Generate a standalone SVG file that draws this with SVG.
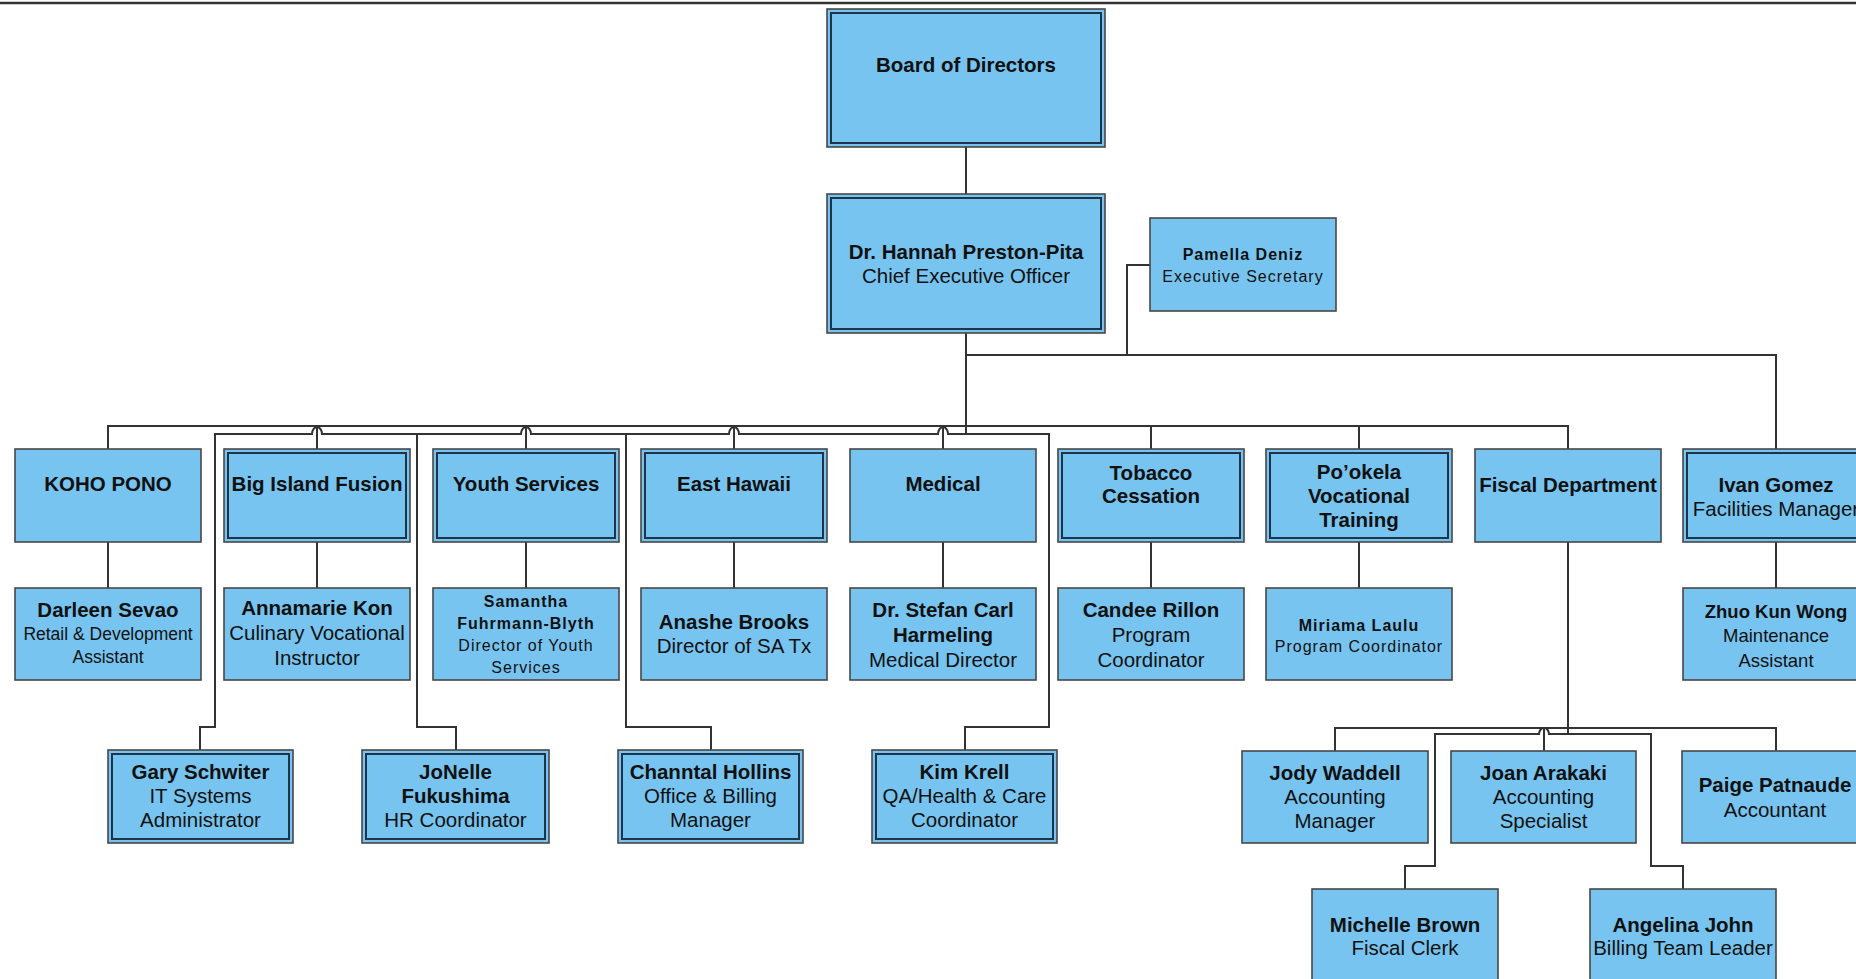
<svg xmlns="http://www.w3.org/2000/svg" width="1856" height="979" viewBox="0 0 1856 979">
<style>
.box{fill:#78C4F0;stroke:#474747;stroke-width:1.6}
.inner{fill:none;stroke:#1f3449;stroke-width:2}
.conn{fill:none;stroke:#333;stroke-width:2}
text{font-family:"Liberation Sans",Arial,sans-serif;text-anchor:middle;fill:#111;font-size:20.5px}
.b{font-weight:bold}
.s16{font-size:16px;letter-spacing:1px}
.s175{font-size:17.5px}
.s18{font-size:18.5px}
</style>
<rect width="1856" height="979" fill="#fff"/>
<line x1="0" y1="3" x2="1856" y2="3" stroke="#333" stroke-width="2.5"/>
<g id="connectors">
<path class="conn" d="M966 147V194"/>
<path class="conn" d="M966 333V434"/>
<path class="conn" d="M1150 265H1127V355"/>
<path class="conn" d="M966 355H1776V449"/>
<path class="conn" d="M108 449V426H1568V449"/>
<path class="conn" d="M317 426V449M526 426V449M734 426V449M943 426V449M1151 426V449M1359 426V449"/>
<path class="conn" d="M200 750V727H215V434H312A5 7 0 0 1 322 434H521A5 7 0 0 1 531 434H729A5 7 0 0 1 739 434H938A5 7 0 0 1 948 434H1049V727H965V750"/>
<path class="conn" d="M417 434V727H456V750"/>
<path class="conn" d="M626 434V727H711V750"/>
<path class="conn" d="M108 542V588M317 542V588M526 542V588M734 542V588M943 542V588M1151 542V588M1359 542V588M1776 542V588"/>
<path class="conn" d="M1568 542V734"/>
<path class="conn" d="M1335 751V728H1776V751"/>
<path class="conn" d="M1544 728V751"/>
<path class="conn" d="M1405 889V866H1435V734H1539A5 6 0 0 1 1549 734H1651V866H1683V889"/>
</g>
<g id="board"><rect class="box" x="827" y="9" width="278" height="138"/><rect class="inner" x="831" y="13" width="270" height="130"/><text class="b" x="966" y="72">Board of Directors</text></g>
<g id="ceo"><rect class="box" x="827" y="194" width="278" height="139"/><rect class="inner" x="831" y="198" width="270" height="131"/><text class="b" x="966" y="259">Dr. Hannah Preston-Pita</text><text x="966" y="283">Chief Executive Officer</text></g>
<g id="pamella"><rect class="box" x="1150" y="218" width="186" height="93"/><text class="b s16" x="1243" y="260">Pamella Deniz</text><text class="s16" x="1243" y="282">Executive Secretary</text></g>

<g id="koho"><rect class="box" x="15" y="449" width="186" height="93"/><text class="b" x="108" y="491">KOHO PONO</text></g>
<g id="bigisland"><rect class="box" x="224" y="449" width="186" height="93"/><rect class="inner" x="228" y="453" width="178" height="85"/><text class="b" x="317" y="491">Big Island Fusion</text></g>
<g id="youth"><rect class="box" x="433" y="449" width="186" height="93"/><rect class="inner" x="437" y="453" width="178" height="85"/><text class="b" x="526" y="491">Youth Services</text></g>
<g id="easthawaii"><rect class="box" x="641" y="449" width="186" height="93"/><rect class="inner" x="645" y="453" width="178" height="85"/><text class="b" x="734" y="491">East Hawaii</text></g>
<g id="medical"><rect class="box" x="850" y="449" width="186" height="93"/><text class="b" x="943" y="491">Medical</text></g>
<g id="tobacco"><rect class="box" x="1058" y="449" width="186" height="93"/><rect class="inner" x="1062" y="453" width="178" height="85"/><text class="b" x="1151" y="480">Tobacco</text><text class="b" x="1151" y="503">Cessation</text></g>
<g id="pookela"><rect class="box" x="1266" y="449" width="186" height="93"/><rect class="inner" x="1270" y="453" width="178" height="85"/><text class="b" x="1359" y="479">Po’okela</text><text class="b" x="1359" y="503">Vocational</text><text class="b" x="1359" y="527">Training</text></g>
<g id="fiscal"><rect class="box" x="1475" y="449" width="186" height="93"/><text class="b" x="1568" y="492">Fiscal Department</text></g>
<g id="ivan"><rect class="box" x="1683" y="449" width="186" height="93"/><rect class="inner" x="1687" y="453" width="178" height="85"/><text class="b" x="1776" y="492">Ivan Gomez</text><text x="1776" y="516">Facilities Manager</text></g>

<g id="darleen"><rect class="box" x="15" y="588" width="186" height="92"/><text class="b" x="108" y="617">Darleen Sevao</text><text class="s175" x="108" y="640">Retail &amp; Development</text><text class="s175" x="108" y="663">Assistant</text></g>
<g id="annamarie"><rect class="box" x="224" y="588" width="186" height="92"/><text class="b" x="317" y="615">Annamarie Kon</text><text x="317" y="640">Culinary Vocational</text><text x="317" y="665">Instructor</text></g>
<g id="samantha"><rect class="box" x="433" y="588" width="186" height="92"/><text class="b s16" x="526" y="607">Samantha</text><text class="b s16" x="526" y="629">Fuhrmann-Blyth</text><text class="s16" x="526" y="651">Director of Youth</text><text class="s16" x="526" y="673">Services</text></g>
<g id="anashe"><rect class="box" x="641" y="588" width="186" height="92"/><text class="b" x="734" y="629">Anashe Brooks</text><text x="734" y="653">Director of SA Tx</text></g>
<g id="stefan"><rect class="box" x="850" y="588" width="186" height="92"/><text class="b" x="943" y="617">Dr. Stefan Carl</text><text class="b" x="943" y="642">Harmeling</text><text x="943" y="667">Medical Director</text></g>
<g id="candee"><rect class="box" x="1058" y="588" width="186" height="92"/><text class="b" x="1151" y="617">Candee Rillon</text><text x="1151" y="642">Program</text><text x="1151" y="667">Coordinator</text></g>
<g id="miriama"><rect class="box" x="1266" y="588" width="186" height="92"/><text class="b s16" x="1359" y="631">Miriama Laulu</text><text class="s16" x="1359" y="652">Program Coordinator</text></g>
<g id="zhuo"><rect class="box" x="1683" y="588" width="186" height="92"/><text class="b s18" x="1776" y="618">Zhuo Kun Wong</text><text class="s18" x="1776" y="642">Maintenance</text><text class="s18" x="1776" y="667">Assistant</text></g>

<g id="gary"><rect class="box" x="108" y="750" width="185" height="93"/><rect class="inner" x="112" y="754" width="177" height="85"/><text class="b" x="200.5" y="779">Gary Schwiter</text><text x="200.5" y="803">IT Systems</text><text x="200.5" y="827">Administrator</text></g>
<g id="jonelle"><rect class="box" x="362" y="750" width="187" height="93"/><rect class="inner" x="366" y="754" width="179" height="85"/><text class="b" x="455.5" y="779">JoNelle</text><text class="b" x="455.5" y="803">Fukushima</text><text x="455.5" y="827">HR Coordinator</text></g>
<g id="channtal"><rect class="box" x="618" y="750" width="185" height="93"/><rect class="inner" x="622" y="754" width="177" height="85"/><text class="b" x="710.5" y="779">Channtal Hollins</text><text x="710.5" y="803">Office &amp; Billing</text><text x="710.5" y="827">Manager</text></g>
<g id="kim"><rect class="box" x="872" y="750" width="185" height="93"/><rect class="inner" x="876" y="754" width="177" height="85"/><text class="b" x="964.5" y="779">Kim Krell</text><text x="964.5" y="803">QA/Health &amp; Care</text><text x="964.5" y="827">Coordinator</text></g>

<g id="jody"><rect class="box" x="1242" y="751" width="186" height="92"/><text class="b" x="1335" y="780">Jody Waddell</text><text x="1335" y="804">Accounting</text><text x="1335" y="828">Manager</text></g>
<g id="joan"><rect class="box" x="1451" y="751" width="185" height="92"/><text class="b" x="1543.5" y="780">Joan Arakaki</text><text x="1543.5" y="804">Accounting</text><text x="1543.5" y="828">Specialist</text></g>
<g id="paige"><rect class="box" x="1682" y="751" width="186" height="92"/><text class="b" x="1775" y="792">Paige Patnaude</text><text x="1775" y="817">Accountant</text></g>
<g id="michelle"><rect class="box" x="1312" y="889" width="186" height="110"/><text class="b" x="1405" y="932">Michelle Brown</text><text x="1405" y="955">Fiscal Clerk</text></g>
<g id="angelina"><rect class="box" x="1590" y="889" width="186" height="110"/><text class="b" x="1683" y="932">Angelina John</text><text x="1683" y="955">Billing Team Leader</text></g>
</svg>
